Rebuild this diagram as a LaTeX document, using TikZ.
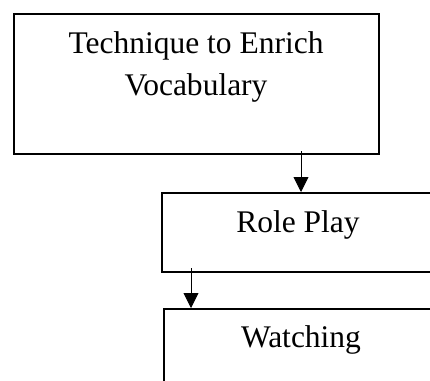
\documentclass[tikz,border=0pt]{standalone}
\usepackage{fontspec}
\setmainfont{Liberation Serif}
\usetikzlibrary{arrows.meta}

\begin{document}
\begin{tikzpicture}[
  x=1pt,
  y=-1pt,
  box/.style={draw=black,line width=1.6pt,anchor=north west,inner sep=0pt},
  arr/.style={-{Triangle[length=15pt,width=15pt]},line width=0.9pt},
  txt/.style={anchor=base,inner sep=0pt,font=\fontsize{31.5}{42}\selectfont}
]
\useasboundingbox (0,0) rectangle (430,380);
\clip (0,0) rectangle (430,380);
% boxes
\node[box,minimum width=365pt,minimum height=140pt] (tech) at (13,13) {};
\node[box,minimum width=280pt,minimum height=79pt] (role) at (161,192) {};
\node[box,minimum width=280pt,minimum height=100pt] (watch) at (163,308) {};
% texts
\node[txt] (techA) at (196,53) {Technique to Enrich};
\node[txt] (techB) at (196,95) {Vocabulary};
\node[txt] (roleT) at (298,232) {Role Play};
\node[txt] (watchT) at (301,347) {Watching};
% arrows
\coordinate (a1) at (301,151);
\coordinate (a2) at (191,268);
\draw[arr] (a1) -- (a1 |- role.north);
\draw[arr] (a2) -- (a2 |- watch.north);
\end{tikzpicture}
\end{document}
